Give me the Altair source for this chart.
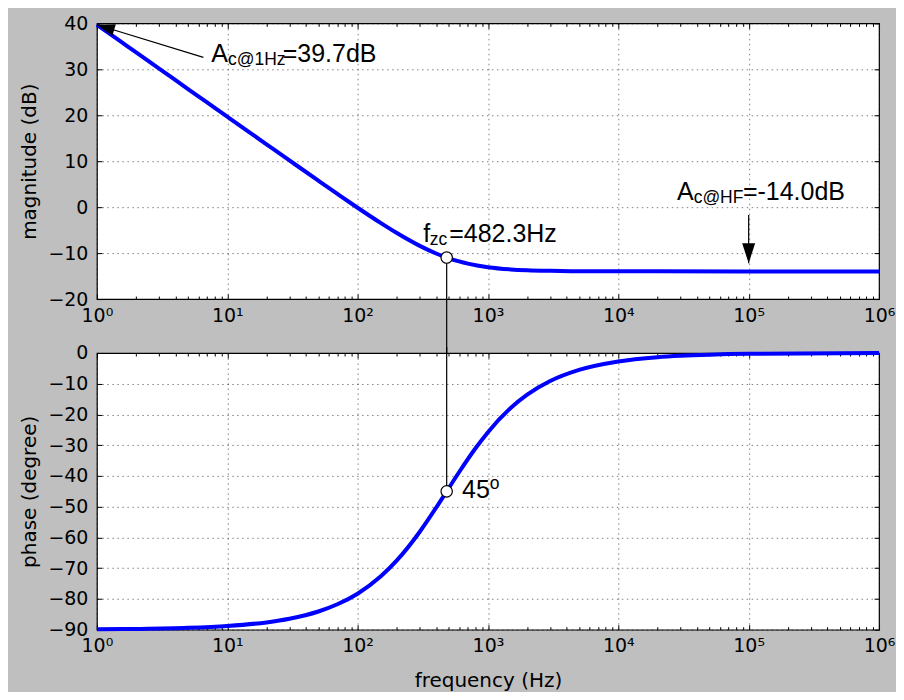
import altair as alt
import pandas as pd

# ---------------- data ----------------
freq_mag = [1, 1.5, 2, 3, 5, 7, 10, 15, 20, 30, 50, 70, 100, 150, 200, 300, 400,
            482.3, 600, 700, 1000, 1500, 2000, 3000, 5000, 10000, 20000, 100000, 1000000]
mag_db = [39.69, 36.17, 33.67, 30.15, 25.71, 22.79, 19.69, 16.17, 13.68, 10.17, 5.76,
          2.88, -0.13, -3.43, -5.64, -8.43, -10.08, -10.97, -11.81, -12.29, -13.07,
          -13.55, -13.73, -13.86, -13.94, -13.97, -13.97, -13.98, -13.98]

freq_ph = [1, 2, 5, 10, 20, 30, 50, 70, 100, 150, 200, 300, 400, 482.3, 600, 800,
           1000, 1500, 2000, 3000, 5000, 10000, 20000, 30000, 50000, 100000, 1000000]
phase_deg = [-89.88, -89.76, -89.41, -88.81, -87.63, -86.44, -84.08, -81.74, -78.29,
             -72.72, -67.48, -58.13, -50.33, -45.0, -38.79, -31.08, -25.75, -17.82,
             -13.56, -9.13, -5.51, -2.76, -1.38, -0.92, -0.55, -0.28, -0.03]

f_zc = 482.3
mag_at_fzc = -10.97
phase_at_fzc = -45.0

x_major = [1, 10, 100, 1000, 10000, 100000, 1000000]
x_minor = [k * 10 ** n for n in range(6) for k in range(2, 10)]
mag_ticks = [-20, -10, 0, 10, 20, 30, 40]
phase_ticks = [-90, -80, -70, -60, -50, -40, -30, -20, -10, 0]

# annotation anchors (data coordinates)
ann1_tail = (6.56, 32.6)
ann1_tip = (1.0, 39.7)
ann1_text = (7.55, 31.6)
ann2_tail = (100000, -1.7)
ann2_tip = (100000, -12.2)
ann2_text = (28180, 1.52)
ann3_text = (319, -7.54)
ann4_text = (633, -47.1)

# ---------------- layout / style ----------------
W = 783
H_TOP = 276
H_BOT = 277
GAP = 54
BLUE = "#0000ff"
TICK_FONT = "DejaVu Sans"
ANN_FONT = "Liberation Sans"
LBL = 19
BIG = 25
SUB = 17.5

xs = alt.Scale(type="log", domain=[1, 1000000], nice=False)
label_expr = "'10' + ['\u2070','\u00b9','\u00b2','\u00b3','\u2074','\u2075','\u2076'][round(log(datum.value)/LN10)]"


def ax_common(**kw):
    base = dict(labelFont=TICK_FONT, labelFontSize=LBL, labelColor="black",
                tickColor="black", domain=False, titleFont=TICK_FONT,
                titleFontSize=20, titleFontWeight="normal", titleColor="black",
                gridColor="black", gridOpacity=0.5, gridDash=[1.5, 3.5], gridWidth=1,
                labelFlush=False, labelOverlap=False)
    base.update(kw)
    return alt.Axis(**base)


def axis_layers(df, ycol, ys, yticks, ytitle, xtitle):
    base = alt.Chart(df)
    main = base.mark_line(color=BLUE, strokeWidth=4, interpolate="monotone").encode(
        x=alt.X("f:Q", scale=xs, axis=ax_common(orient="bottom", values=x_major,
                labelExpr=label_expr, grid=True, tickSize=5, offset=-5,
                labelPadding=7, title=xtitle, titlePadding=15)),
        y=alt.Y(f"{ycol}:Q", scale=ys, axis=ax_common(orient="left", values=yticks,
                grid=True, tickSize=5, offset=-5, labelPadding=9, title=ytitle,
                titlePadding=8)),
    )
    l2 = base.mark_point(opacity=0).encode(
        x=alt.X("f:Q", scale=xs, axis=ax_common(orient="bottom", values=x_minor,
                labels=False, grid=False, tickSize=3, offset=-3, title=None)),
        y=alt.Y(f"{ycol}:Q", scale=ys, axis=ax_common(orient="right", values=yticks,
                labels=False, grid=False, tickSize=5, offset=-5, title=None)),
    )
    l3 = base.mark_point(opacity=0).encode(
        x=alt.X("f:Q", scale=xs, axis=ax_common(orient="top", values=x_major,
                labels=False, grid=False, tickSize=5, offset=-5, title=None)),
        y=alt.Y(f"{ycol}:Q", scale=ys, axis=None),
    )
    l4 = base.mark_point(opacity=0).encode(
        x=alt.X("f:Q", scale=xs, axis=ax_common(orient="top", values=x_minor,
                labels=False, grid=False, tickSize=3, offset=-3, title=None)),
        y=alt.Y(f"{ycol}:Q", scale=ys, axis=None),
    )
    return [main, l2, l3, l4]


def pt(f, v):
    return pd.DataFrame({"f": [f], "v": [v]})


def enc(chart, ys):
    return chart.encode(x=alt.X("f:Q", scale=xs, axis=None), y=alt.Y("v:Q", scale=ys, axis=None))


def text_piece(f, v, ys, txt, size, dx=0, dy=0):
    return enc(alt.Chart(pt(f, v)).mark_text(text=txt, font=ANN_FONT, fontSize=size,
               align="left", baseline="alphabetic", dx=dx, dy=dy, color="black"), ys)


ARROW = "M0,0 L-0.33,-1 L0.33,-1 Z"

# ---------------- top panel ----------------
ys_top = alt.Scale(domain=[-20, 40], nice=False, zero=False)
df_mag = pd.DataFrame({"f": freq_mag, "v": mag_db})
top_layers = axis_layers(df_mag, "v", ys_top, mag_ticks, "magnitude (dB)", None)

shaft1 = enc(alt.Chart(pd.DataFrame({"f": [ann1_tail[0], ann1_tip[0]],
                                     "v": [ann1_tail[1], ann1_tip[1]]}))
             .mark_line(color="black", strokeWidth=1.2), ys_top)
head1 = enc(alt.Chart(pt(*ann1_tip)).mark_point(shape=ARROW, angle=107, size=1296,
            filled=True, color="black", opacity=1), ys_top)
shaft2 = alt.Chart(pd.DataFrame({"f": [ann2_tail[0]], "v": [ann2_tail[1]], "v2": [ann2_tip[1]]})
                   ).mark_rule(color="black", strokeWidth=1.2).encode(
    x=alt.X("f:Q", scale=xs, axis=None), y=alt.Y("v:Q", scale=ys_top, axis=None), y2="v2:Q")
head2 = enc(alt.Chart(pt(*ann2_tip)).mark_point(shape="M0,0 L-0.325,-1 L0.325,-1 Z", size=1600,
            filled=True, color="black", opacity=1), ys_top)

t1 = [text_piece(*ann1_text, ys_top, "A", BIG),
      text_piece(*ann1_text, ys_top, "c@1Hz", SUB, dx=16.7, dy=3),
      text_piece(*ann1_text, ys_top, "=39.7dB", BIG, dx=71.5)]
t2 = [text_piece(*ann2_text, ys_top, "A", BIG),
      text_piece(*ann2_text, ys_top, "c@HF", SUB, dx=16.7, dy=3),
      text_piece(*ann2_text, ys_top, "=-14.0dB", BIG, dx=66)]
t3 = [text_piece(*ann3_text, ys_top, "f", BIG),
      text_piece(*ann3_text, ys_top, "zc", SUB, dx=6.5, dy=3),
      text_piece(*ann3_text, ys_top, "=482.3Hz", BIG, dx=26)]

vline_top = alt.Chart(pt(f_zc, mag_at_fzc)).mark_rule(color="black", strokeWidth=1.2).encode(
    x=alt.X("f:Q", scale=xs, axis=None), y=alt.Y("v:Q", scale=ys_top, axis=None),
    y2=alt.value(H_TOP + GAP + 6))
mk_top = enc(alt.Chart(pt(f_zc, mag_at_fzc)).mark_point(shape="circle", size=130, filled=True,
             fill="white", stroke="black", strokeWidth=1.2, opacity=1), ys_top)

top = alt.layer(*top_layers, shaft1, head1, shaft2, head2, *t1, *t2, *t3, vline_top, mk_top
                ).resolve_axis(x="independent", y="independent").properties(width=W, height=H_TOP)

# ---------------- bottom panel ----------------
ys_bot = alt.Scale(domain=[-90, 0], nice=False, zero=False)
df_ph = pd.DataFrame({"f": freq_ph, "v": phase_deg})
bot_layers = axis_layers(df_ph, "v", ys_bot, phase_ticks, "phase (degree)", "frequency (Hz)")

vline_bot = alt.Chart(pt(f_zc, phase_at_fzc)).mark_rule(color="black", strokeWidth=1.2).encode(
    x=alt.X("f:Q", scale=xs, axis=None), y=alt.Y("v:Q", scale=ys_bot, axis=None),
    y2=alt.value(-6))
mk_bot = enc(alt.Chart(pt(f_zc, phase_at_fzc)).mark_point(shape="circle", size=130, filled=True,
             fill="white", stroke="black", strokeWidth=1.2, opacity=1), ys_bot)
t4 = [text_piece(*ann4_text, ys_bot, "45", BIG),
      text_piece(*ann4_text, ys_bot, "o", SUB, dx=27.8, dy=-9)]

bottom = alt.layer(*bot_layers, vline_bot, mk_bot, *t4
                   ).resolve_axis(x="independent", y="independent").properties(width=W, height=H_BOT)

chart = alt.vconcat(top, bottom, spacing=GAP, bounds="flush").configure(
    background="#bfbfbf",
    padding={"left": 11, "top": 5, "right": 0, "bottom": 0},
).configure_view(fill="white", stroke="black", strokeWidth=1.2)

chart.save("out.html", embed_options={"renderer": "svg", "actions": False})
